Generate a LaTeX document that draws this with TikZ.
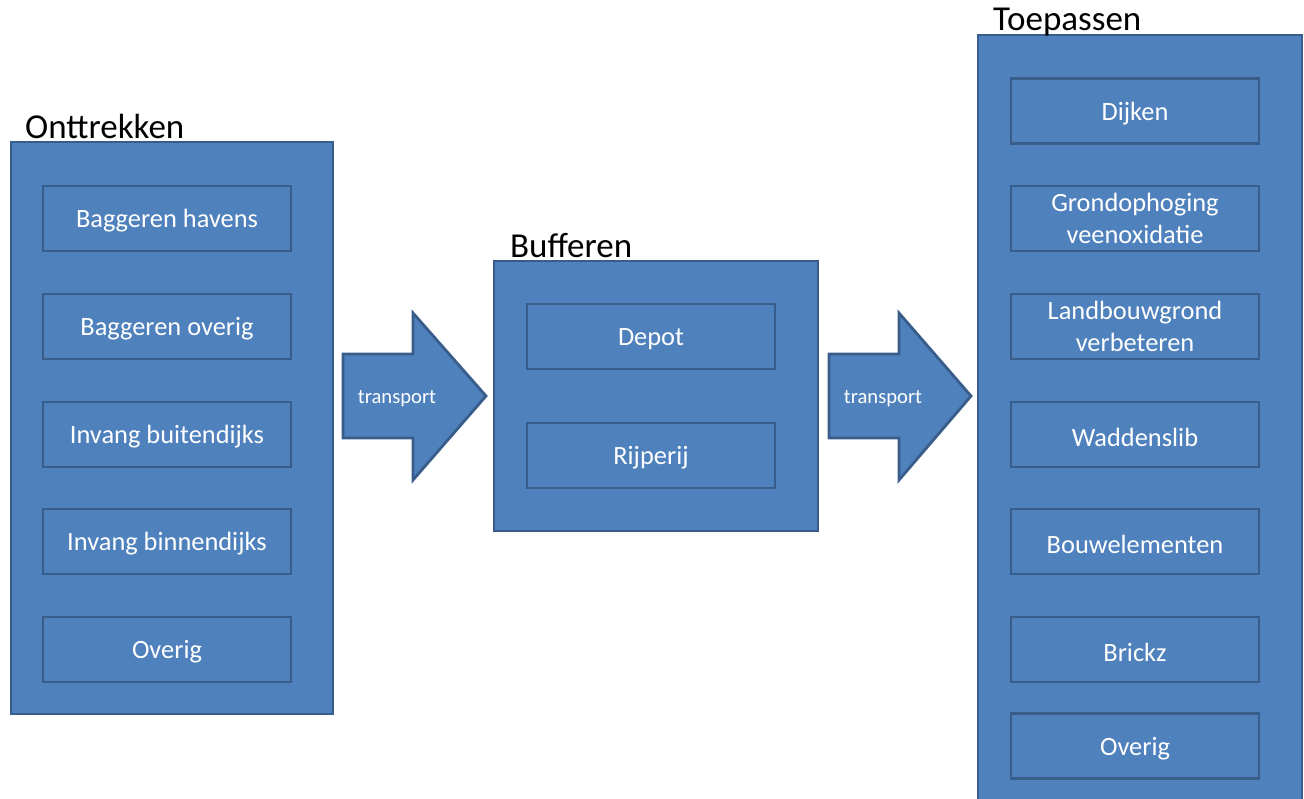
\documentclass[tikz,border=0pt]{standalone}
\usepackage{fontspec}
\setmainfont{Carlito}
\definecolor{boxfill}{HTML}{4F81BD}
\definecolor{boxline}{HTML}{385D8A}
\begin{document}
\begin{tikzpicture}[x=1pt,y=-1pt,
  outerbox/.style={draw=boxline,fill=boxfill,line width=2.8pt,rectangle,inner sep=0pt},
  innerbox/.style={draw=boxline,fill=boxfill,line width=2.8pt,rectangle,inner sep=0pt,
     minimum width=248pt,minimum height=65pt,text=white,align=center,
     font=\fontsize{26.4}{32}\selectfont},
  boxtext/.style={text=white,align=center,inner sep=0pt,font=\fontsize{26.4}{32}\selectfont},
  grouplabel/.style={anchor=base west,inner sep=0pt,font=\fontsize{35}{42}\selectfont},
  blockarrow/.style={draw=boxline,fill=boxfill,line width=2.8pt,line join=miter},
  arrowlabel/.style={text=white,inner sep=0pt,font=\fontsize{20.6}{24}\selectfont}]
\useasboundingbox (0,0) rectangle (1304,798);
\clip (0,0) rectangle (1304,798);
% Onttrekken
\node[outerbox,minimum width=322pt,minimum height=572pt] (ont) at (172,428) {};
\node[grouplabel] (ontlab) at (25,138) {Onttrekken};
\foreach \n/\y/\t in {o1/218.5/Baggeren havens,o2/326.5/Baggeren overig,o3/434.5/Invang buitendijks,o4/541.5/Invang binnendijks,o5/649.5/Overig}{
  \node[innerbox] (\n) at (167,\y) {};
  \node[boxtext] (\n t) at ([yshift=-2.5pt]\n.center) {\t};
}
% arrow 1
\draw[blockarrow] (343,354) -- (413,354) -- (413,313) -- (486,396) -- (413,480) -- (413,438) -- (343,438) -- cycle;
\node[arrowlabel] (t1) at (397,398.5) {transport};
% Bufferen
\node[outerbox,minimum width=324pt,minimum height=270pt] (buf) at (656,396) {};
\node[grouplabel] (buflab) at (510,257) {Bufferen};
\foreach \n/\y/\t in {b1/336.5/Depot,b2/455.5/Rijperij}{
  \node[innerbox] (\n) at (651,\y) {};
  \node[boxtext] (\n t) at ([yshift=-2.5pt]\n.center) {\t};
}
% arrow 2
\draw[blockarrow] (829,354) -- (899,354) -- (899,313) -- (971,396) -- (899,480) -- (899,438) -- (829,438) -- cycle;
\node[arrowlabel] (t2) at (883,398.5) {transport};
% Toepassen
\node[outerbox,minimum width=324pt,minimum height=800pt] (toe) at (1140,435) {};
\node[grouplabel] (toelab) at (993,30) {Toepassen};
\foreach \n/\y/\s/\t in {r1/111/-2.5/Dijken,r2/218.5/0/{Grondophoging\\veenoxidatie},r3/326.5/0/{Landbouwgrond\\verbeteren},r4/434.5/-2.5/Waddenslib,r5/541.5/-2.5/Bouwelementen,r6/649.5/-2.5/Brickz,r7/746/-2.5/Overig}{
  \node[innerbox] (\n) at (1135,\y) {};
  \node[boxtext] (\n t) at ([yshift=\s pt]\n.center) {\t};
}
\end{tikzpicture}
\end{document}
